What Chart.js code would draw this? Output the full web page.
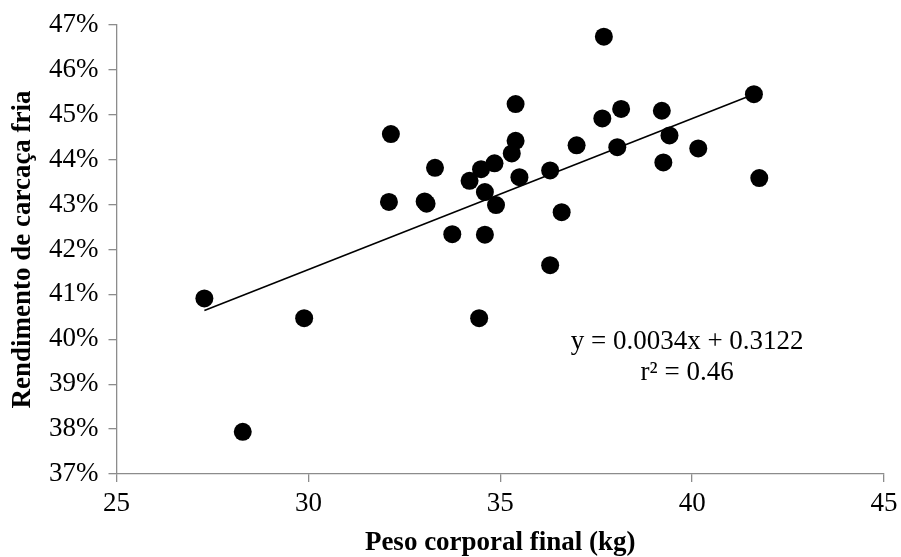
<!DOCTYPE html>
<html>
<head>
<meta charset="utf-8">
<script src="https://cdn.jsdelivr.net/npm/chart.js@4"></script>
<style>
  html, body { margin: 0; padding: 0; background: #fff; }
  #wrap { width: 901px; height: 557px; }
</style>
</head>
<body>
<div id="wrap"><canvas id="myChart" width="901" height="557"></canvas></div>
<script>
// final body weight (kg) and cold carcass yield (%)
const peso = [27.29, 28.29, 29.89, 32.10, 32.15, 33.03, 33.08, 33.30, 33.75, 34.20, 34.45, 34.50,
              34.60, 34.60, 34.85, 34.89, 35.30, 35.40, 35.40, 35.50, 36.30, 36.30, 36.60, 36.99,
              37.66, 37.70, 38.05, 38.15, 39.21, 39.25, 39.41, 40.16, 41.61, 41.75];
const rendimento = [40.91, 37.94, 40.47, 43.06, 44.57, 43.07, 43.02, 43.82, 42.34, 43.53, 40.47, 43.79,
                    43.28, 42.33, 43.92, 42.99, 44.14, 44.42, 45.24, 43.61, 43.76, 41.65, 42.83, 44.32,
                    44.92, 46.74, 44.28, 45.13, 45.09, 43.94, 44.54, 44.25, 45.46, 43.59];

// trend line end points
const trendX = [27.29, 41.61];
const trendY = [40.64, 45.46];

// equation label
const eqLines = ['y = 0.0034x + 0.3122', 'r\u00b2 = 0.46'];
const eqX = 39.87;
const eqY = [39.94, 39.25];

const serif = "'Liberation Serif', 'Times New Roman', serif";

const eqPlugin = {
    id: 'eqLabel',
    afterDatasetsDraw(chart) {
        const ctx = chart.ctx;
        const xs = chart.scales.x, ys = chart.scales.y;
        ctx.save();
        ctx.fillStyle = '#000';
        ctx.font = '27px ' + serif;
        ctx.textAlign = 'center';
        ctx.textBaseline = 'middle';
        eqLines.forEach((t, i) => {
            ctx.fillText(t, xs.getPixelForValue(eqX), ys.getPixelForValue(eqY[i]));
        });
        ctx.restore();
    }
};

const ctx = document.getElementById('myChart').getContext('2d');
new Chart(ctx, {
    type: 'scatter',
    data: {
        datasets: [{
            data: peso.map((x, i) => ({ x: x, y: rendimento[i] })),
            backgroundColor: '#000',
            borderWidth: 0,
            pointRadius: 9,
            pointHoverRadius: 9
        }, {
            type: 'line',
            data: trendX.map((x, i) => ({ x: x, y: trendY[i] })),
            borderColor: '#000',
            borderWidth: 1.6,
            pointRadius: 0,
            fill: false
        }]
    },
    options: {
        responsive: false,
        animation: false,
        layout: { padding: { left: 0, right: 17, top: 25, bottom: 0 } },
        plugins: { legend: { display: false }, tooltip: { enabled: false } },
        scales: {
            x: {
                type: 'linear',
                min: 25, max: 45,
                ticks: { stepSize: 5, color: '#000', padding: 6, font: { family: serif, size: 27 } },
                grid: { drawOnChartArea: false, tickLength: 8, color: '#8c8c8c', lineWidth: 1.3 },
                border: { color: '#8c8c8c', width: 1.3 },
                title: {
                    display: true, text: 'Peso corporal final (kg)', color: '#000',
                    font: { family: serif, size: 27, weight: 'bold', lineHeight: 1.05 },
                    padding: { top: 0, bottom: 0 }
                },
                afterFit(s) { s.height = 83; s.paddingLeft = 0; s.paddingRight = 0; }
            },
            y: {
                min: 37, max: 47,
                ticks: {
                    stepSize: 1, color: '#000', padding: 10, font: { family: serif, size: 27 },
                    callback: v => v + '%'
                },
                grid: { drawOnChartArea: false, tickLength: 8, color: '#8c8c8c', lineWidth: 1.3 },
                border: { color: '#8c8c8c', width: 1.3 },
                title: {
                    display: true, text: 'Rendimento de carcaça fria', color: '#000',
                    font: { family: serif, size: 27, weight: 'bold' }, padding: { top: 7, bottom: 0 }
                },
                afterFit(s) { s.width = 116.5; s.paddingTop = 0; s.paddingBottom = 0; }
            }
        }
    },
    plugins: [eqPlugin]
});
</script>
</body>
</html>
